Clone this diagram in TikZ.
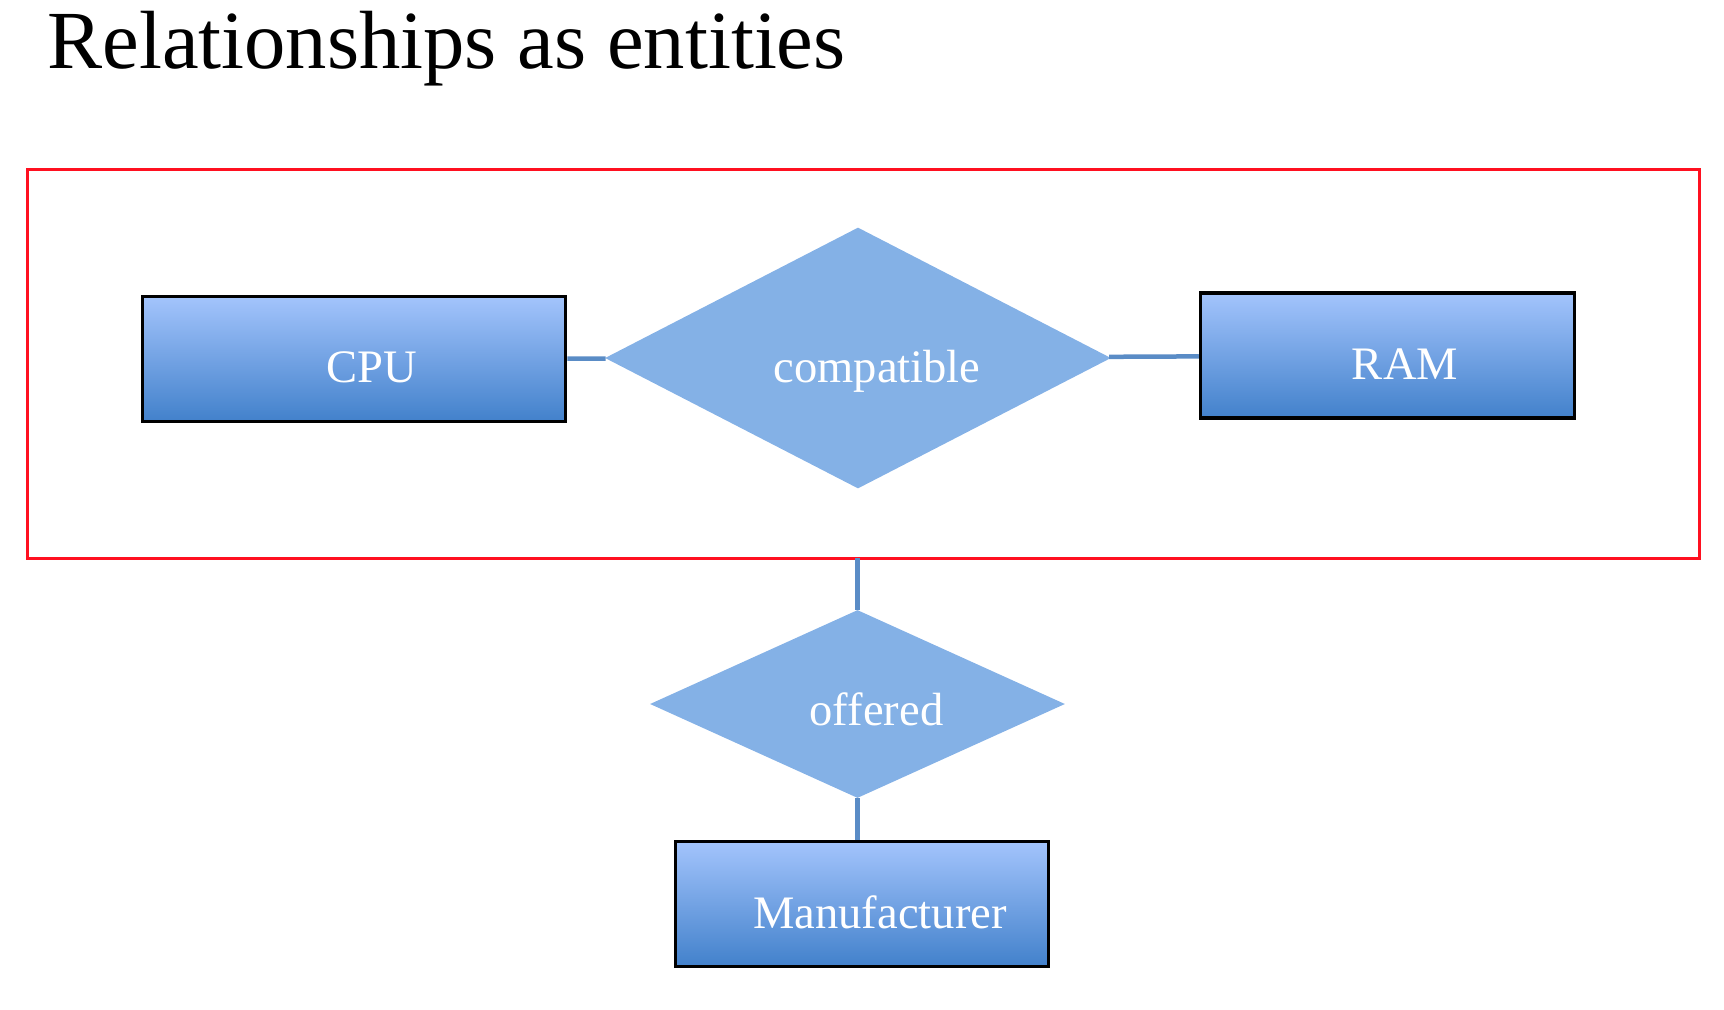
\documentclass[tikz,border=0pt]{standalone}
\usepackage{fontspec}
\setmainfont{Liberation Serif}
\usetikzlibrary{shapes.geometric}
\definecolor{erred}{HTML}{FF1020}
\definecolor{ertop}{HTML}{A3C4FC}
\definecolor{erbottom}{HTML}{4281CB}
\definecolor{erdiamond}{HTML}{84B1E6}
\definecolor{erlink}{HTML}{5A8CC6}

\begin{document}
\begin{tikzpicture}[
  entity/.style={draw=black, line width=0.07cm, top color=ertop, bottom color=erbottom, minimum height=2.5cm, inner sep=0pt},
  relation/.style={diamond, fill=erdiamond, inner sep=0pt},
  ertext/.style={text=white, font=\fontsize{26.5}{30}\selectfont, anchor=base, inner sep=0pt},
  link/.style={erlink, line width=0.09cm}
]
\useasboundingbox (0,0) rectangle (34.48,-20.2);

\node[anchor=base west, inner sep=0pt, font=\fontsize{47}{52}\selectfont] (title) at (0.94,-1.36) {Relationships as entities};

% aggregate: the relationship taken as an entity
\coordinate (aggnw) at (0.55,-3.38);
\coordinate (aggse) at (33.98,-11.16);
\draw[erred, line width=0.06cm] (aggnw) rectangle (aggse);

\node[entity, minimum width=8.46cm] (cpu) at (7.08,-7.18) {};
\node[entity, minimum width=7.48cm] (ram) at (27.75,-7.11) {};
\node[relation, minimum width=10.12cm, minimum height=5.22cm] (compat) at (17.16,-7.16) {};

\node[relation, minimum width=8.3cm, minimum height=3.76cm] (offered) at (17.15,-14.08) {};
\node[entity, minimum width=7.46cm] (maker) at (17.24,-18.08) {};

\node[ertext] (cputext) at ([xshift=0.35cm, yshift=-0.46cm]cpu.center) {CPU};
\node[ertext] (ramtext) at ([xshift=0.35cm, yshift=-0.47cm]ram.center) {RAM};
\node[ertext] (compattext) at ([xshift=0.38cm, yshift=-0.48cm]compat.center) {compatible};
\node[ertext] (offeredtext) at ([xshift=0.38cm, yshift=-0.42cm]offered.center) {offered};
\node[ertext] (makertext) at ([xshift=0.36cm, yshift=-0.48cm]maker.center) {Manufacturer};

\draw[link] (cpu) -- (compat);
\draw[link] (compat) -- (ram);
\draw[link] (offered.north |- aggse) -- (offered.north);
\draw[link] (offered.south) -- (offered.south |- maker.north);
\end{tikzpicture}
\end{document}
